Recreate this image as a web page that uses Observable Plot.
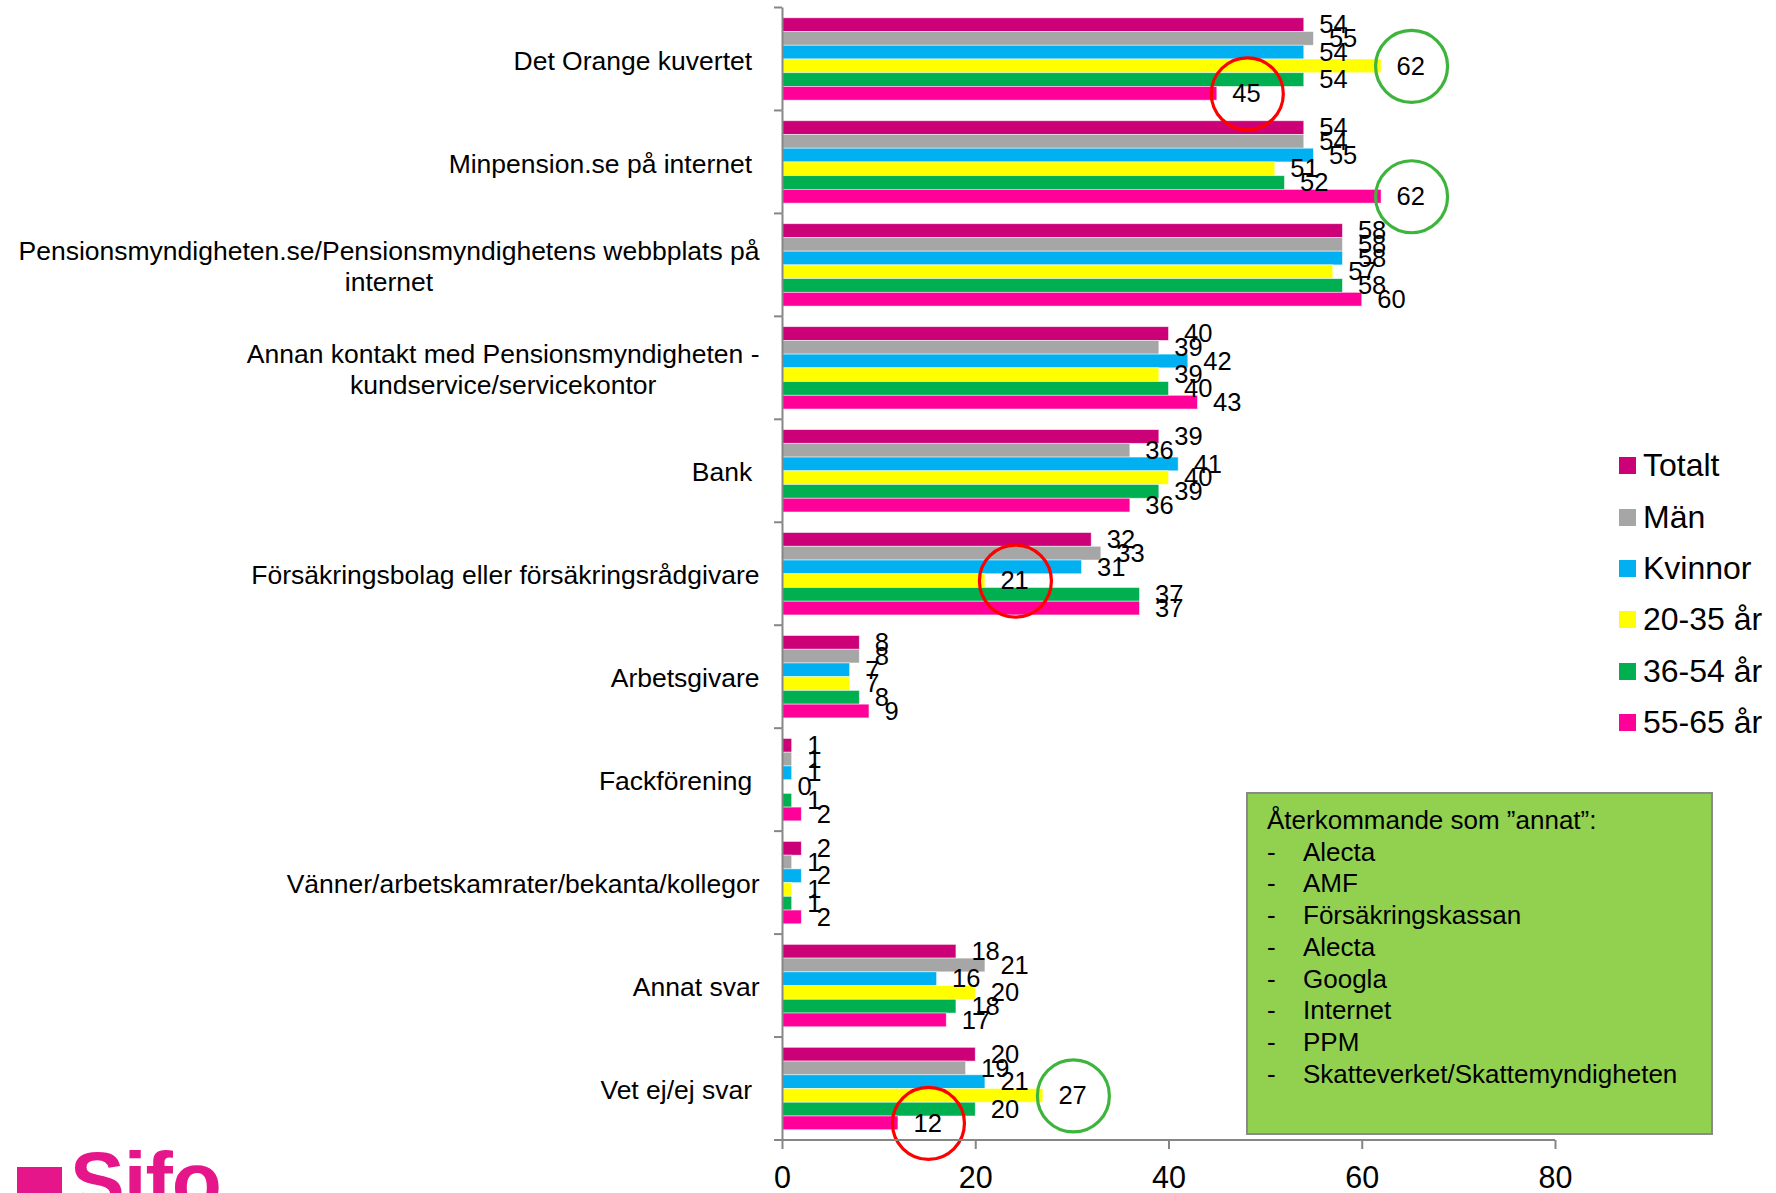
<!DOCTYPE html>
<html><head><meta charset="utf-8">
<script src="https://cdn.jsdelivr.net/npm/d3@7"></script>
<script src="https://cdn.jsdelivr.net/npm/@observablehq/plot@0.6"></script>
<style>
html,body{margin:0;padding:0;background:#fff;overflow:hidden;}
#wrap{position:relative;width:1776px;height:1193px;overflow:hidden;font-family:"Liberation Sans",Arial,sans-serif;color:#000;}
#chart{position:absolute;left:0;top:0;}
#legend{position:absolute;left:1619px;top:440px;}
#legend .item{display:flex;align-items:center;height:51.4px;font-size:32px;}
#legend .sw{width:17px;height:17px;margin-right:7px;}
#note{position:absolute;left:1246px;top:792px;width:467px;height:343px;box-sizing:border-box;background:#92D050;border:2px solid #8a8a8a;padding:11px 0 0 19px;font-size:26px;line-height:31.7px;}
#note .row{display:flex;}
#note .dash{width:36px;}
#logo{position:absolute;left:17px;top:1140px;font-weight:bold;color:#E5168A;font-size:82px;line-height:1;}
#logo .sq{position:absolute;left:0;top:27px;width:45px;height:60px;background:#E5168A;}
#logo .txt{position:absolute;left:53px;top:0;letter-spacing:-1px;}
</style></head>
<body><div id="wrap"><div id="chart"></div><div id="legend"></div><div id="note"></div>
<div id="logo"><div class="sq"></div><div class="txt">Sifo</div></div></div>
<script>
const categories = [
  "Det Orange kuvertet\u00a0",
  "Minpension.se på internet\u00a0",
  "Pensionsmyndigheten.se/Pensionsmyndighetens webbplats på\ninternet",
  "Annan kontakt med Pensionsmyndigheten -\nkundservice/servicekontor",
  "Bank\u00a0",
  "Försäkringsbolag eller försäkringsrådgivare",
  "Arbetsgivare",
  "Fackförening\u00a0",
  "Vänner/arbetskamrater/bekanta/kollegor",
  "Annat svar",
  "Vet ej/ej svar\u00a0"
];
const series = ["Totalt", "Män", "Kvinnor", "20-35 år", "36-54 år", "55-65 år"];
const colors = ["#CC0077", "#A6A6A6", "#00B0F0", "#FFFF00", "#00B050", "#FF0099"];
const totalt  = [54, 54, 58, 40, 39, 32, 8, 1, 2, 18, 20];
const man     = [55, 54, 58, 39, 36, 33, 8, 1, 1, 21, 19];
const kvinnor = [54, 55, 58, 42, 41, 31, 7, 1, 2, 16, 21];
const age2035 = [62, 51, 57, 39, 40, 21, 7, 0, 1, 20, 27];
const age3654 = [54, 52, 58, 40, 39, 37, 8, 1, 1, 18, 20];
const age5565 = [45, 62, 60, 43, 36, 37, 9, 2, 2, 17, 12];
const xTicks = [0, 20, 40, 60, 80];
// highlighted values: [category index, series index, colour]
const highlightCat    = [0, 0, 1, 5, 10, 10];
const highlightSeries = [3, 5, 5, 3, 3, 5];
const highlightColor  = ["#3DB53D", "#FF0000", "#3DB53D", "#FF0000", "#3DB53D", "#FF0000"];
const noteTitle = "Återkommande som ”annat”:";
const noteItems = ["Alecta", "AMF", "Försäkringskassan", "Alecta", "Googla", "Internet", "PPM", "Skatteverket/Skattemyndigheten"];

const seriesValues = [totalt, man, kvinnor, age2035, age3654, age5565];
const rows = [];
categories.forEach((c, i) => series.forEach((s, j) => rows.push({category: c, series: s, value: seriesValues[j][i]})));
const highlights = highlightCat.map((ci, k) => ({
  category: categories[ci], series: series[highlightSeries[k]],
  value: seriesValues[highlightSeries[k]][ci], color: highlightColor[k]
}));

const font = "Liberation Sans, Arial, sans-serif";
const chart = Plot.plot({
  width: 1776, height: 1193,
  marginLeft: 782, marginRight: 221, marginTop: 7.5, marginBottom: 53,
  style: {fontFamily: font, background: "transparent", color: "black"},
  x: {domain: [0, 80], label: null},
  y: {domain: series, paddingInner: 0, paddingOuter: 0.75, round: false, axis: null},
  fy: {domain: categories, padding: 0, round: false, label: null, axis: null},
  color: {domain: series, range: colors},
  marks: [
    Plot.barX(rows, {fy: "category", y: "series", x: "value", fill: "series", stroke: "white", strokeWidth: 0.8, strokeOpacity: 0.6}),
    Plot.text(rows, {fy: "category", y: "series", x: "value", text: d => String(d.value), textAnchor: "start", dx: 15, fontSize: 25.5, fill: "black"}),
    Plot.dot(highlights, {fy: "category", y: "series", x: "value", r: 36, dx: 30, stroke: d => d.color, strokeWidth: 3.2, fill: "none"}),
    Plot.ruleX([0], {stroke: "#868686", strokeWidth: 2}),
    Plot.axisX({ticks: xTicks, tickSize: 9, tickPadding: 17, fontSize: 30.5, stroke: "#868686", fill: "black", strokeWidth: 2, label: null}),
    Plot.axisFy({anchor: "left", tickSize: 0, tickPadding: 23, fontSize: 26.5, lineHeight: 1.19, fill: "black", label: null})
  ]
});
document.getElementById("chart").appendChild(chart);

// axis line along the bottom and category boundary ticks, placed with the plot's own scales
const svg = d3.select(chart);
let xs = chart.scale("x"), fys = chart.scale("fy");
const xa = v => xs.apply(v);
let fyStart, fyEnd;
if (fys && fys.apply) {
  fyStart = c => fys.apply(c);
  const bw = fys.bandwidth || ((fys.range[1] - fys.range[0]) / categories.length);
  fyEnd = fyStart(categories[categories.length - 1]) + bw;
} else {
  const b = d3.scaleBand(categories, [7.5, 1193 - 53]).padding(0);
  fyStart = c => b(c); fyEnd = b(categories[categories.length - 1]) + b.bandwidth();
}
const g = svg.append("g").attr("stroke", "#868686").attr("stroke-width", 2);
g.append("line").attr("x1", xa(0) - 8).attr("x2", xa(80)).attr("y1", fyEnd).attr("y2", fyEnd);
categories.forEach(c => {
  const y = fyStart(c);
  g.append("line").attr("x1", xa(0) - 8).attr("x2", xa(0)).attr("y1", y).attr("y2", y);
});

// centre the lines of multi-line category labels on each other (as in the original)
svg.selectAll("text").each(function() {
  const ts = this.querySelectorAll("tspan");
  if (ts.length > 1) {
    const ws = Array.from(ts).map(t => t.getComputedTextLength());
    const maxW = Math.max(...ws);
    ts.forEach((t, i) => { t.setAttribute("dx", null); t.setAttribute("x", String(-(maxW - ws[i]) / 2)); });
  }
});

// legend
const leg = document.getElementById("legend");
series.forEach((s, i) => {
  const it = document.createElement("div"); it.className = "item";
  it.innerHTML = `<div class="sw" style="background:${colors[i]}"></div><span>${s}</span>`;
  leg.appendChild(it);
});
// note box
const note = document.getElementById("note");
const t = document.createElement("div"); t.textContent = noteTitle; note.appendChild(t);
noteItems.forEach(s => {
  const r = document.createElement("div"); r.className = "row";
  r.innerHTML = `<span class="dash">-</span><span>${s}</span>`;
  note.appendChild(r);
});
</script></body></html>
